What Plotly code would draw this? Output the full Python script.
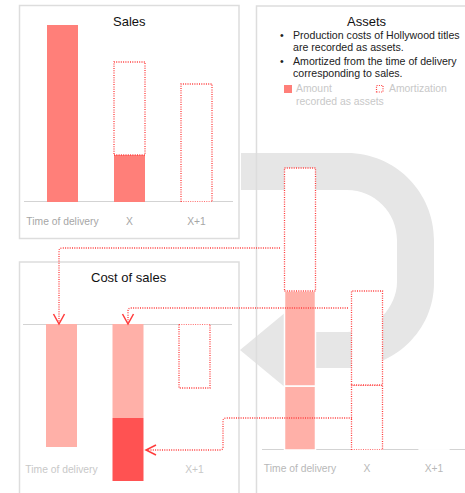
import plotly.graph_objects as go

W, H = 465, 493

# ---------------- data (bar heights, chart units) ----------------
categories = ["Time of delivery", "X", "X+1"]

sales_recognized = [177, 47, 0]        # solid bars
sales_expected = [0, 93, 118]          # dotted outlines above the solid part

assets_solid_lower = [64, 0, 0]        # amount remaining after X
assets_solid_upper = [95, 0, 0]        # amount amortized in X
assets_dotted_delivery = [123, 0, 0]   # amortized at time of delivery
assets_dotted_lower = [0, 65, 0]
assets_dotted_upper = [0, 94, 0]

cost_light = [123, 94, 0]              # cost of sales (light)
cost_dark = [0, 63, 0]                 # cost of sales (dark, stacked)
cost_expected = [0, 0, 64]             # dotted outline

bullet_lines = [
    ("Production costs of Hollywood titles", "are recorded as assets."),
    ("Amortized from the time of delivery", "corresponding to sales."),
]

# ---------------- styles ----------------
RED = "#FF3C3C"
SALMON = "#FF7F79"
PINK = "#FFB0A8"
DARK = "#FF5252"
GREY_ARROW = "#E6E6E6"
BORDER = "#DDDDDD"
BASE = "#C4C4C4"
FONT = "Liberation Sans, Arial, sans-serif"
DOT = "1px,1.3px"


def px(x):
    return x / W


def py(y):
    return 1 - y / H


fig = go.Figure()

# panel geometry in pixels
panels = {
    "sales": dict(xa="x", ya="y", left=24, right=233, c0=62.5, step=67, top=20, bottom=202),
    "cost": dict(xa="x2", ya="y2", left=23, right=232, c0=61.5, step=66.5, top=324, bottom=486),
    "assets": dict(xa="x3", ya="y3", left=262, right=465, c0=300, step=67, top=160, bottom=450),
}
BAR_PX = 31


def xrange_of(p):
    return [(p["left"] - p["c0"]) / p["step"], (p["right"] - p["c0"]) / p["step"]]


def bw(p):
    return BAR_PX / p["step"]


def dotted_rects(p, bases, heights, name):
    xs, ys = [], []
    w = bw(p)
    for i, (b, h) in enumerate(zip(bases, heights)):
        if h <= 0:
            continue
        xs += [i - w / 2, i + w / 2, i + w / 2, i - w / 2, i - w / 2, None]
        ys += [b, b, b + h, b + h, b, None]
    return go.Scatter(x=xs, y=ys, mode="lines", fill="toself", fillcolor="white",
                      line=dict(color=RED, width=1.3, dash=DOT),
                      xaxis=p["xa"], yaxis=p["ya"], hoverinfo="skip",
                      showlegend=False, name=name)


def solid_bar(p, values, bases, color, name, outline=0):
    return go.Bar(x=list(range(len(values))), y=values, base=bases, width=bw(p),
                  marker=dict(color=color, line=dict(color="white", width=outline)),
                  xaxis=p["xa"], yaxis=p["ya"], showlegend=False, name=name,
                  hoverinfo="skip")


idx = list(range(len(categories)))

# Sales
ps = panels["sales"]
fig.add_trace(solid_bar(ps, sales_recognized, [0] * 3, SALMON, "Sales"))
fig.add_trace(dotted_rects(ps, sales_recognized, sales_expected, "Sales expected"))

# Assets
pa = panels["assets"]
fig.add_trace(solid_bar(pa, assets_solid_lower, [0] * 3, PINK, "Assets lower", outline=1.5))
fig.add_trace(solid_bar(pa, assets_solid_upper, assets_solid_lower, PINK, "Assets upper", outline=1.5))
fig.add_trace(dotted_rects(pa, [a + b for a, b in zip(assets_solid_lower, assets_solid_upper)],
                           assets_dotted_delivery, "Amortized at delivery"))
fig.add_trace(dotted_rects(pa, [0] * 3, assets_dotted_lower, "Remaining"))
fig.add_trace(dotted_rects(pa, assets_dotted_lower, assets_dotted_upper, "Amortized in X"))

# Cost of sales
pc = panels["cost"]
fig.add_trace(solid_bar(pc, cost_light, [0] * 3, PINK, "Cost light"))
fig.add_trace(solid_bar(pc, cost_dark, cost_light, DARK, "Cost dark"))
fig.add_trace(dotted_rects(pc, [0] * 3, cost_expected, "Cost expected"))

# ---------------- axes ----------------
layout_axes = {}
tick_colors = {"sales": "#A6A6A6", "cost": "#C8C8C8", "assets": "#B8B8B8"}
ticktexts = {
    "sales": categories,
    "cost": [categories[0], "", categories[2]],
    "assets": categories,
}
label_y = {"sales": 219, "cost": 467, "assets": 466}
for key, p in panels.items():
    xname = "xaxis" + p["xa"][1:]
    yname = "yaxis" + p["ya"][1:]
    ax = dict(domain=[px(p["left"]), px(p["right"])], range=xrange_of(p),
              showgrid=False, zeroline=False, showline=False,
              tickvals=idx, ticktext=ticktexts[key], ticks="",
              tickfont=dict(family=FONT, size=10.3, color=tick_colors[key]),
              anchor="free", position=py(label_y[key] - 5), fixedrange=True)
    if key == "cost":
        yr = [p["bottom"] - p["top"], 0]
    else:
        yr = [0, p["bottom"] - p["top"]]
    ay = dict(domain=[py(p["bottom"]), py(p["top"])], range=yr,
              showgrid=False, zeroline=False, showline=False, showticklabels=False,
              anchor=p["xa"], fixedrange=True)
    layout_axes[xname] = ax
    layout_axes[yname] = ay

shapes = []


def P(x, y):
    return f"{px(x):.5f},{py(y):.5f}"


# big grey U-turn arrow
k = 0.552
ro, ri = 87, 50
arrow = (
    f"M {P(241,153)} L {P(347,153)} "
    f"C {P(347+k*ro,153)} {P(434,240-k*ro)} {P(434,240)} "
    f"L {P(434,283)} "
    f"C {P(434,283+k*ro*0.98)} {P(347+k*ro,368)} {P(347,368)} "
    f"L {P(292,368)} L {P(292,393)} L {P(240,350)} L {P(292,307)} L {P(292,332)} "
    f"L {P(347,332)} "
    f"C {P(347+k*ri,332)} {P(397,282+k*ri*0.9)} {P(397,282)} "
    f"L {P(397,240)} "
    f"C {P(397,240-k*ri)} {P(347+k*ri,190)} {P(347,190)} "
    f"L {P(241,190)} Z"
)
shapes.append(dict(type="path", path=arrow, xref="paper", yref="paper",
                   fillcolor=GREY_ARROW, line=dict(width=0), layer="below"))

# panel borders
shapes.append(dict(type="rect", xref="paper", yref="paper", x0=px(19.5), x1=px(239),
                   y0=py(238.5), y1=py(5.5), line=dict(color=BORDER, width=1.5),
                   fillcolor="rgba(0,0,0,0)", layer="below"))
shapes.append(dict(type="path", xref="paper", yref="paper",
                   path=f"M {P(19.5,495)} L {P(19.5,262)} L {P(239,262)} L {P(239,495)}",
                   line=dict(color=BORDER, width=1.5), layer="below"))
shapes.append(dict(type="path", xref="paper", yref="paper",
                   path=f"M {P(256.5,495)} L {P(256.5,6)} L {P(466,6)}",
                   line=dict(color=BORDER, width=1.5), layer="below"))

# baselines at value 0 of each panel
for p in panels.values():
    shapes.append(dict(type="line", xref=p["xa"] + " domain", yref=p["ya"],
                       x0=0, x1=1, y0=0, y1=0, line=dict(color=BASE, width=1.5),
                       layer="below"))

# connectors (dotted) + arrowheads
dot = dict(color=RED, width=1.3, dash=DOT)
solid = dict(color=RED, width=1.5)
connectors = [
    f"M {P(280,248)} L {P(62,248)} Q {P(59,248)} {P(59,251)} L {P(59,322)}",
    f"M {P(348,308)} L {P(131,308)} Q {P(128,308)} {P(128,311)} L {P(128,322)}",
    f"M {P(352,418)} L {P(226,418)} Q {P(223,418)} {P(223,421)} L {P(223,447)} "
    f"Q {P(223,450)} {P(220,450)} L {P(148,450)}",
]
for c in connectors:
    shapes.append(dict(type="path", xref="paper", yref="paper", path=c, line=dot, layer="above"))
heads = [
    f"M {P(53.5,314)} L {P(59,324)} L {P(64.5,314)}",
    f"M {P(122.5,314)} L {P(128,324)} L {P(133.5,314)}",
    f"M {P(156,445)} L {P(146,450)} L {P(156,455)}",
]
for h in heads:
    shapes.append(dict(type="path", xref="paper", yref="paper", path=h, line=solid, layer="above"))

# legend markers
shapes.append(dict(type="rect", xref="paper", yref="paper", x0=px(284), x1=px(292),
                   y0=py(93), y1=py(85), fillcolor=SALMON, line=dict(width=0)))
shapes.append(dict(type="rect", xref="paper", yref="paper", x0=px(376.5), x1=px(383),
                   y0=py(92), y1=py(85.5), fillcolor="white",
                   line=dict(color=RED, width=1.2, dash=DOT)))

# ---------------- text ----------------
ann = []


def text(x, y, s, size, color, xanchor="center"):
    ann.append(dict(x=px(x), y=py(y), xref="paper", yref="paper", text=s, showarrow=False,
                    xanchor=xanchor, yanchor="middle",
                    font=dict(family=FONT, size=size, color=color)))


text(129, 21, "Sales", 13, "#111111")
text(366.5, 21, "Assets", 13, "#111111")
text(128.5, 277, "Cost of sales", 13, "#111111")

line_y = [(35, 47.3), (61, 72.7)]
for (l1, l2), (y1, y2) in zip(bullet_lines, line_y):
    text(281.5, y1, "•", 10.6, "#222222")
    text(290.5, y1, l1, 10.6, "#222222", xanchor="left")
    text(290.5, y2, l2, 10.6, "#222222", xanchor="left")

text(293.5, 89, "Amount", 10.4, "#C8C8C8", xanchor="left")
text(293.5, 102, "recorded as assets", 10.4, "#C8C8C8", xanchor="left")
text(387, 89, "Amortization", 10.4, "#C8C8C8", xanchor="left")

fig.update_layout(
    width=W, height=H, margin=dict(l=0, r=0, t=0, b=0),
    paper_bgcolor="white", plot_bgcolor="rgba(0,0,0,0)",
    barmode="overlay", showlegend=False,
    shapes=shapes, annotations=ann,
    font=dict(family=FONT),
    **layout_axes,
)

fig.write_html("out.html", config={"displayModeBar": False})
